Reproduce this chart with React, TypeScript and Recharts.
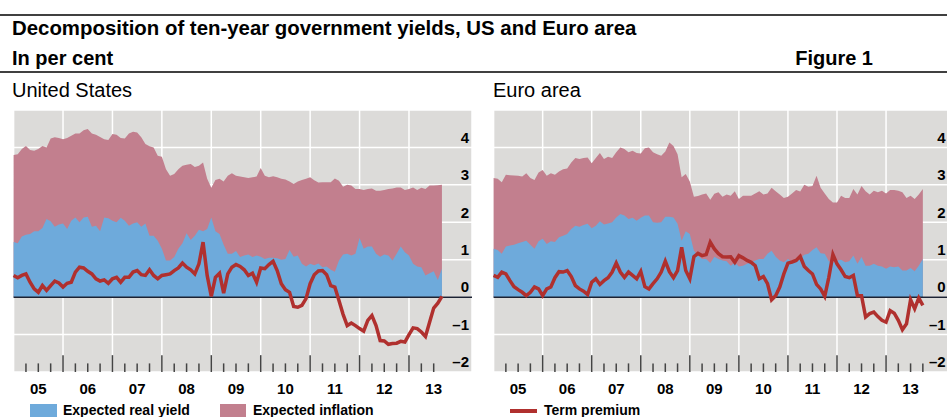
import React from "react";
import {
  Area,
  CartesianGrid,
  ComposedChart,
  Line,
  ReferenceLine,
  XAxis,
  YAxis,
} from "recharts";

// monthly observations, index 0 = Jan 2005
const usReal = [
  1.47, 1.44, 1.62, 1.67, 1.69, 1.76, 1.76, 1.85, 2.09, 2.03, 1.88, 1.94,
  1.97, 1.82, 2.04, 2.13, 2.0, 2.13, 2.15, 1.88, 1.91, 1.76, 2.13, 2.11,
  2.04, 2.0, 2.12, 2.04, 1.91, 1.97, 2.0, 1.88, 1.97, 1.64, 1.64, 1.51,
  1.29, 0.98, 0.98, 1.07, 1.29, 1.44, 1.71, 1.53, 1.64, 1.8, 1.76, 1.82,
  2.13, 1.76, 1.69, 1.4, 1.16, 1.16, 1.23, 1.07, 1.11, 1.14, 1.07, 1.11,
  1.08, 1.02, 1.05, 1.05, 1.04, 1.0, 1.02, 1.26, 1.08, 1.11, 0.89, 0.82,
  0.89, 0.85, 0.9, 0.8, 0.82, 0.73, 0.68, 0.98, 1.14, 1.16, 1.11, 1.16,
  1.58, 1.29, 1.35, 1.35, 1.16, 1.08, 1.14, 1.11, 0.98, 1.16, 1.35, 1.2,
  1.11, 0.89, 0.82, 0.8, 0.58, 0.64, 0.69, 0.46, 0.76,
];
const usTotal = [
  3.8, 3.82, 3.96, 4.04, 3.93, 3.91, 3.96, 4.04, 4.0, 4.24, 4.27, 4.25,
  4.22, 4.25, 4.31, 4.37, 4.37, 4.46, 4.49, 4.37, 4.34, 4.28, 4.22, 4.2,
  4.36, 4.34, 4.25, 4.24, 4.37, 4.42, 4.4, 4.27, 4.09, 4.03, 4.0, 3.78,
  3.75, 3.42, 3.24, 3.29, 3.42, 3.51, 3.54, 3.56, 3.48, 3.51, 3.6, 3.16,
  2.92, 3.13, 3.16, 3.09, 3.24, 3.31, 3.24, 3.22, 3.2, 3.18, 3.2, 3.22,
  3.45, 3.24, 3.2, 3.23, 3.2, 3.16, 3.14, 3.09, 3.02, 3.09, 3.13, 3.16,
  3.2, 3.12, 3.06, 3.07, 3.07, 3.07, 3.17, 3.11, 2.95, 3.0, 2.98, 2.89,
  2.89, 2.86, 2.89, 2.9, 2.84, 2.84, 2.86, 2.89, 2.9, 2.93, 2.93, 2.86,
  2.89, 2.93, 2.86, 2.92, 2.89, 2.98, 2.98, 2.99, 3.0,
];
const usTerm = [
  0.58, 0.52, 0.58, 0.62, 0.4, 0.22, 0.13, 0.31, 0.18, 0.31, 0.43, 0.38,
  0.27, 0.37, 0.4, 0.67, 0.8, 0.78, 0.69, 0.62, 0.49, 0.43, 0.46, 0.37,
  0.49, 0.53, 0.4, 0.53, 0.53, 0.67, 0.71, 0.6, 0.58, 0.73, 0.58, 0.49,
  0.58, 0.6, 0.62, 0.71, 0.78, 0.91, 0.8, 0.73, 0.62, 0.89, 1.47, 0.58,
  0.02, 0.53, 0.64, 0.11, 0.62, 0.8, 0.87, 0.82, 0.73, 0.58, 0.64, 0.4,
  0.78, 0.76, 0.87, 0.96, 0.71, 0.36, 0.2, 0.13, -0.25, -0.27, -0.22, -0.04,
  0.36, 0.6, 0.7, 0.71, 0.6, 0.31, 0.27, -0.09, -0.46, -0.76, -0.69, -0.76,
  -0.84, -0.91, -0.62, -0.49, -0.76, -1.16, -1.17, -1.26, -1.24, -1.23, -1.18, -1.2,
  -1.0, -0.82, -0.84, -0.93, -1.05, -0.67, -0.29, -0.16, 0.02,
];

const euReal = [
  1.29, 1.26, 1.16, 1.35, 1.38, 1.4, 1.44, 1.47, 1.51, 1.4, 1.29, 1.49,
  1.56, 1.42, 1.49, 1.47, 1.6, 1.64, 1.69, 1.82, 1.91, 1.88, 1.93, 1.96,
  1.84, 1.91, 2.03, 1.94, 1.97, 2.0, 2.13, 2.22, 2.18, 2.09, 2.12, 2.04,
  2.12, 2.18, 2.18, 2.0, 1.99, 2.0, 2.15, 2.15, 2.13, 1.96, 1.51, 1.76,
  1.69, 1.24, 1.11, 1.02, 1.02, 0.91, 1.08, 1.02, 0.98, 0.96, 0.84, 0.92,
  0.82, 0.84, 0.89, 0.93, 0.98, 1.02, 1.02, 1.16, 1.24, 1.08, 0.98, 0.93,
  1.02, 0.95, 0.95, 1.03, 1.13, 1.16, 1.26, 1.33, 1.17, 1.16, 0.96, 0.92,
  0.98, 1.0, 0.93, 0.96, 1.11, 0.89, 1.07, 0.84, 0.84, 0.89, 0.84, 0.82,
  0.76, 0.82, 0.8, 0.82, 0.71, 0.71, 0.78, 0.69, 0.84, 1.02,
];
const euTotal = [
  3.18, 3.16, 3.07, 3.27, 3.26, 3.25, 3.24, 3.22, 3.31, 3.18, 3.13, 3.33,
  3.4, 3.24, 3.31, 3.27, 3.36, 3.42, 3.44, 3.6, 3.72, 3.69, 3.72, 3.73,
  3.58, 3.72, 3.85, 3.69, 3.75, 3.72, 3.87, 4.0, 3.96, 3.87, 3.91, 3.85,
  3.84, 3.98, 4.0, 3.87, 3.82, 3.78, 3.89, 4.13, 4.04, 3.82, 3.2, 3.29,
  3.09, 2.68, 2.7, 2.74, 2.77, 2.6, 2.76, 2.8, 2.68, 2.74, 2.71, 2.83,
  2.62, 2.71, 2.71, 2.71, 2.77, 2.83, 2.74, 2.77, 2.92, 2.83, 2.74, 2.65,
  2.68, 2.77, 2.86, 2.82, 3.0, 2.95, 2.97, 3.24, 2.92, 2.77, 2.62, 2.53,
  2.53, 2.71, 2.65, 2.65, 2.89, 2.74, 2.97, 2.83, 2.74, 2.84, 2.8, 2.84,
  2.77, 2.86, 2.86, 2.84, 2.8, 2.65, 2.71, 2.62, 2.74, 2.89,
];
const euTerm = [
  0.58, 0.53, 0.67, 0.62, 0.44, 0.28, 0.2, 0.13, 0.04, 0.13, 0.27, 0.22,
  0.04, 0.22, 0.27, 0.52, 0.68, 0.67, 0.71, 0.55, 0.31, 0.22, 0.16, 0.07,
  0.4, 0.49, 0.34, 0.44, 0.52, 0.67, 0.91, 0.67, 0.53, 0.67, 0.58, 0.49,
  0.69, 0.28, 0.22, 0.36, 0.49, 0.67, 0.96, 0.68, 0.52, 0.71, 1.33, 0.71,
  0.49, 1.08, 1.17, 1.11, 1.14, 1.47, 1.29, 1.16, 1.08, 1.07, 1.08, 0.93,
  1.11, 1.05, 0.98, 0.93, 0.84, 0.49, 0.55, 0.36, -0.07, 0.04, 0.27, 0.62,
  0.91, 0.94, 0.98, 1.09, 0.82, 0.71, 0.62, 0.34, 0.22, 0.02, 0.53, 1.14,
  0.89, 0.73, 0.55, 0.52, 0.58, 0.04, 0.04, -0.53, -0.44, -0.4, -0.52, -0.62,
  -0.67, -0.36, -0.43, -0.62, -0.87, -0.71, -0.07, -0.31, -0.02, -0.22,
];

const yearLabels = ["05", "06", "07", "08", "09", "10", "11", "12", "13"];
const yTicks = [-2, -1, 0, 1, 2, 3, 4];

const X_MAX = 111.3;
const GRAY = "#dcdbd9";
const BLUE = "#6eaadb";
const PINK = "#c27f8e";
const RED = "#b0302e";
const FONT = "'Liberation Sans', Arial, sans-serif";

const yearStarts = yearLabels.slice(1).map((_, i) => (i + 1) * 12);
const yearMids = yearLabels.map((_, i) => i * 12 + 6);

type PanelProps = {
  real: number[];
  total: number[];
  term: number[];
  left: number;
  plotWidth: number;
};

function Panel({ real, total, term, left, plotWidth }: PanelProps) {
  const data = real.map((r, i) => ({ m: i, real: r, total: total[i], term: term[i] }));
  const last = real.length - 1;
  const quarters: number[] = [];
  for (let q = 3; q <= last; q += 3) if (q % 12 !== 0) quarters.push(q);

  return (
    <div style={{ position: "absolute", left, top: 100 }}>
      <ComposedChart
        width={480}
        height={317}
        data={data}
        margin={{ top: 10, right: 480 - 13.6 - plotWidth, left: 13.6, bottom: 15 }}
      >
        {/* year boundaries: only feeds the vertical grid lines */}
        <XAxis
          dataKey="m"
          type="number"
          domain={[0, X_MAX]}
          ticks={yearStarts}
          interval={0}
          tick={() => <g />}
          tickLine={false}
          axisLine={false}
          height={0}
        />
        <XAxis
          xAxisId="lbl"
          dataKey="m"
          type="number"
          domain={[0, X_MAX]}
          ticks={yearMids}
          interval={0}
          tickFormatter={(v) => yearLabels[Math.round((v - 6) / 12)]}
          tickLine={false}
          axisLine={false}
          tickMargin={5}
          height={30}
          tick={{ fill: "#000", fontSize: 15, fontWeight: "bold", fontFamily: FONT }}
        />
        <YAxis
          orientation="right"
          mirror
          type="number"
          domain={[-2, 5]}
          ticks={yTicks}
          interval={0}
          tickFormatter={(v) => (v < 0 ? `\u2013${-v}` : `${v}`)}
          tickLine={false}
          axisLine={false}
          tickSize={0}
          tickMargin={3}
          tick={{ fill: "#000", fontSize: 15, fontWeight: "bold", fontFamily: FONT, dy: -10 }}
        />
        <CartesianGrid fill={GRAY} fillOpacity={1} stroke="#ffffff" strokeWidth={1.5} />
        <Area
          dataKey="total"
          type="linear"
          stroke="none"
          fill={PINK}
          fillOpacity={1}
          baseValue={0}
          isAnimationActive={false}
        />
        <Area
          dataKey="real"
          type="linear"
          stroke="none"
          fill={BLUE}
          fillOpacity={1}
          baseValue={0}
          isAnimationActive={false}
        />
        <ReferenceLine y={0} stroke="#1c2233" strokeWidth={1.5} />
        {yearStarts.map((x) => (
          <ReferenceLine
            key={`y${x}`}
            segment={[{ x, y: -2 }, { x, y: -1.55 }]}
            stroke="#444"
            strokeWidth={1.5}
          />
        ))}
        {quarters.map((x) => (
          <ReferenceLine
            key={`q${x}`}
            segment={[{ x, y: -2 }, { x, y: -1.77 }]}
            stroke="#444"
            strokeWidth={1.5}
          />
        ))}
        <Line
          dataKey="term"
          type="linear"
          stroke={RED}
          strokeWidth={3.5}
          dot={false}
          isAnimationActive={false}
        />
      </ComposedChart>
    </div>
  );
}

export default function App() {
  return (
    <div
      style={{
        position: "absolute",
        left: 0,
        top: 0,
        width: 947,
        height: 417,
        overflow: "hidden",
        background: "#fff",
        fontFamily: FONT,
      }}
    >
      <Panel real={usReal} total={usTotal} term={usTerm} left={0} plotWidth={458.4} />
      <Panel real={euReal} total={euTotal} term={euTerm} left={480} plotWidth={455} />
      <svg
        width={947}
        height={417}
        style={{ position: "absolute", left: 0, top: 0, pointerEvents: "none" }}
        fontFamily={FONT}
      >
        <line x1={0} x2={947} y1={15} y2={15} stroke="#000" strokeWidth={1.5} />
        <text x={12} y={35} fontSize={20.4} fontWeight="bold" fill="#000">
          Decomposition of ten-year government yields, US and Euro area
        </text>
        <text x={12} y={65} fontSize={20} fontWeight="bold" fill="#000">
          In per cent
        </text>
        <text x={873} y={65} fontSize={20} fontWeight="bold" fill="#000" textAnchor="end">
          Figure 1
        </text>
        <line x1={0} x2={947} y1={72} y2={72} stroke="#000" strokeWidth={1.5} />
        <text x={12} y={97} fontSize={20} fill="#000">
          United States
        </text>
        <text x={493} y={97} fontSize={20} fill="#000">
          Euro area
        </text>

        <rect x={30} y={404} width={27} height={16} fill={BLUE} />
        <text x={63} y={415} fontSize={14} fontWeight="bold" fill="#000">
          Expected real yield
        </text>
        <rect x={220} y={404} width={26} height={16} fill={PINK} />
        <text x={253} y={415} fontSize={14} fontWeight="bold" fill="#000">
          Expected inflation
        </text>
        <line x1={510} x2={537} y1={411} y2={411} stroke={RED} strokeWidth={4} />
        <text x={544} y={415} fontSize={14} fontWeight="bold" fill="#000">
          Term premium
        </text>
      </svg>
    </div>
  );
}
